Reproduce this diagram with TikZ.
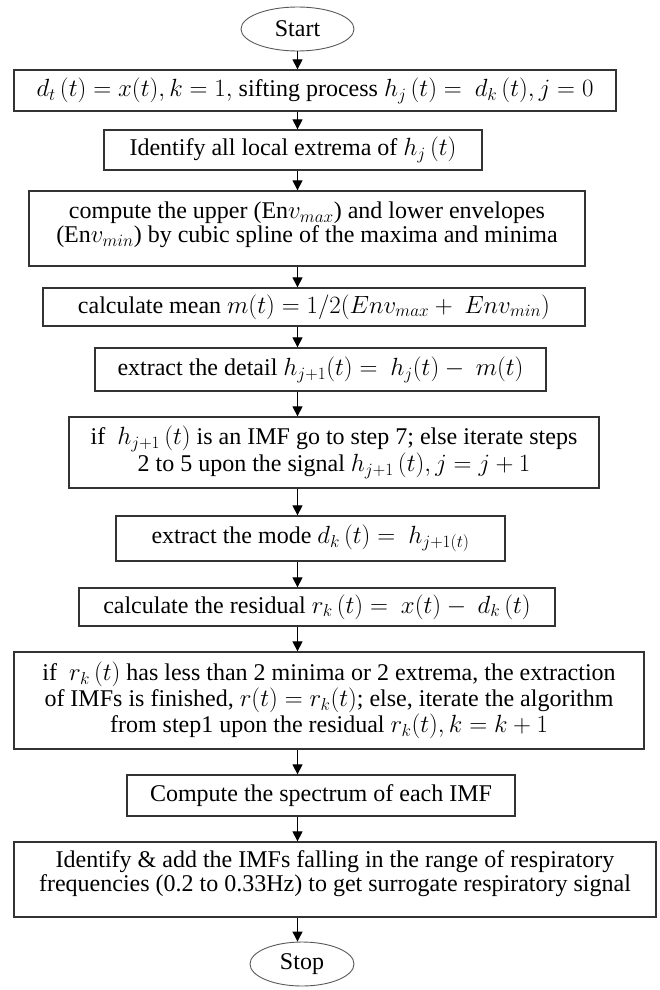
\documentclass[tikz,border=0pt]{standalone}
\usepackage{fontspec}
\setmainfont{Liberation Serif}
\usetikzlibrary{shapes.geometric,arrows.meta}

% extra depth under the last line of a tall box
\newcommand{\padb}[1]{\rule[-#1]{0pt}{#1}}

\begin{document}
\begin{tikzpicture}[
  x=1pt, y=-1pt,
  font=\rmfamily\fontsize{24}{24}\selectfont,
  term/.style={draw=black!65, line width=0.9pt, ellipse, inner sep=0pt},
  proc/.style={draw=black!80, line width=1.3pt, rectangle, align=center, inner sep=0pt},
  arr/.style={-{Triangle[length=10pt,width=10pt]}, line width=1.2pt}
]
\useasboundingbox (0,0) rectangle (659,990);

\node[term, minimum width=113pt, minimum height=44pt] (start) at (297.5,29) {Start};

\node[proc, minimum width=602pt, minimum height=41pt] (init) at (315,90.5)
  {$d_t\,(t) = x(t), k = 1,$ sifting process $h_j\,(t) = \ d_k\,(t), j = 0$};
\node[proc, minimum width=378pt, minimum height=40pt] (extr) at (293,150)
  {Identify all local extrema of $h_j\,(t)$};
\node[proc, minimum width=556pt, minimum height=75pt] (env) at (307,228.5)
  {compute the upper (En$v_{max}$) and lower envelopes\\(En$v_{min}$) by cubic spline of the maxima and minima\padb{13pt}};
\node[proc, minimum width=542pt, minimum height=38pt] (mean) at (314,307)
  {calculate mean $m(t) = 1/2(Env_{max} + \ Env_{min})$};
\node[proc, minimum width=451pt, minimum height=43pt] (detail) at (320.5,369.5)
  {extract the detail $h_{j+1}(t) = \ h_j(t) - \ m(t)$};
\node[proc, minimum width=530pt, minimum height=71pt] (imf) at (334,452.5)
  {if \ $h_{j+1}\,(t)$ is an IMF go to step 7; else iterate steps\\2 to 5 upon the signal $h_{j+1}\,(t), j = j + 1$\padb{4pt}};
\node[proc, minimum width=389pt, minimum height=45pt] (mode) at (310.5,538.5)
  {extract the mode $d_k\,(t) = \ h_{j+1(t)}$};
\node[proc, minimum width=476pt, minimum height=38pt] (resid) at (317,607)
  {calculate the residual $r_k\,(t) = \ x(t) - \ d_k\,(t)$};
\node[proc, minimum width=630pt, minimum height=97pt] (check) at (329,700.5)
  {if \ $r_k\,(t)$ has less than 2 minima or 2 extrema, the extraction\\of IMFs is finished, $r(t) = r_k(t)$; else, iterate the algorithm\\from step1 upon the residual $r_k(t), k = k + 1$\padb{6pt}};
\node[proc, minimum width=388pt, minimum height=41pt] (spec) at (321,795.5)
  {Compute the spectrum of each IMF};
\node[proc, minimum width=642pt, minimum height=75pt] (resp) at (335,879.5)
  {Identify \& add the IMFs falling in the range of respiratory\\frequencies (0.2 to 0.33Hz) to get surrogate respiratory signal\padb{16pt}};

\node[term, minimum width=104pt, minimum height=44pt] (stop) at (302,964) {Stop};

% all arrows run down the same column
\draw[arr] (start.south) -- (init.north -| start);
\draw[arr] (init.south -| start) -- (extr.north -| start);
\draw[arr] (extr.south -| start) -- (env.north -| start);
\draw[arr] (env.south -| start) -- (mean.north -| start);
\draw[arr] (mean.south -| start) -- (detail.north -| start);
\draw[arr] (detail.south -| start) -- (imf.north -| start);
\draw[arr] (imf.south -| start) -- (mode.north -| start);
\draw[arr] (mode.south -| start) -- (resid.north -| start);
\draw[arr] (resid.south -| start) -- (check.north -| start);
\draw[arr] (check.south -| start) -- (spec.north -| start);
\draw[arr] (spec.south -| start) -- (resp.north -| start);
\draw[arr] (resp.south -| start) -- (stop.north -| start);

\end{tikzpicture}
\end{document}
